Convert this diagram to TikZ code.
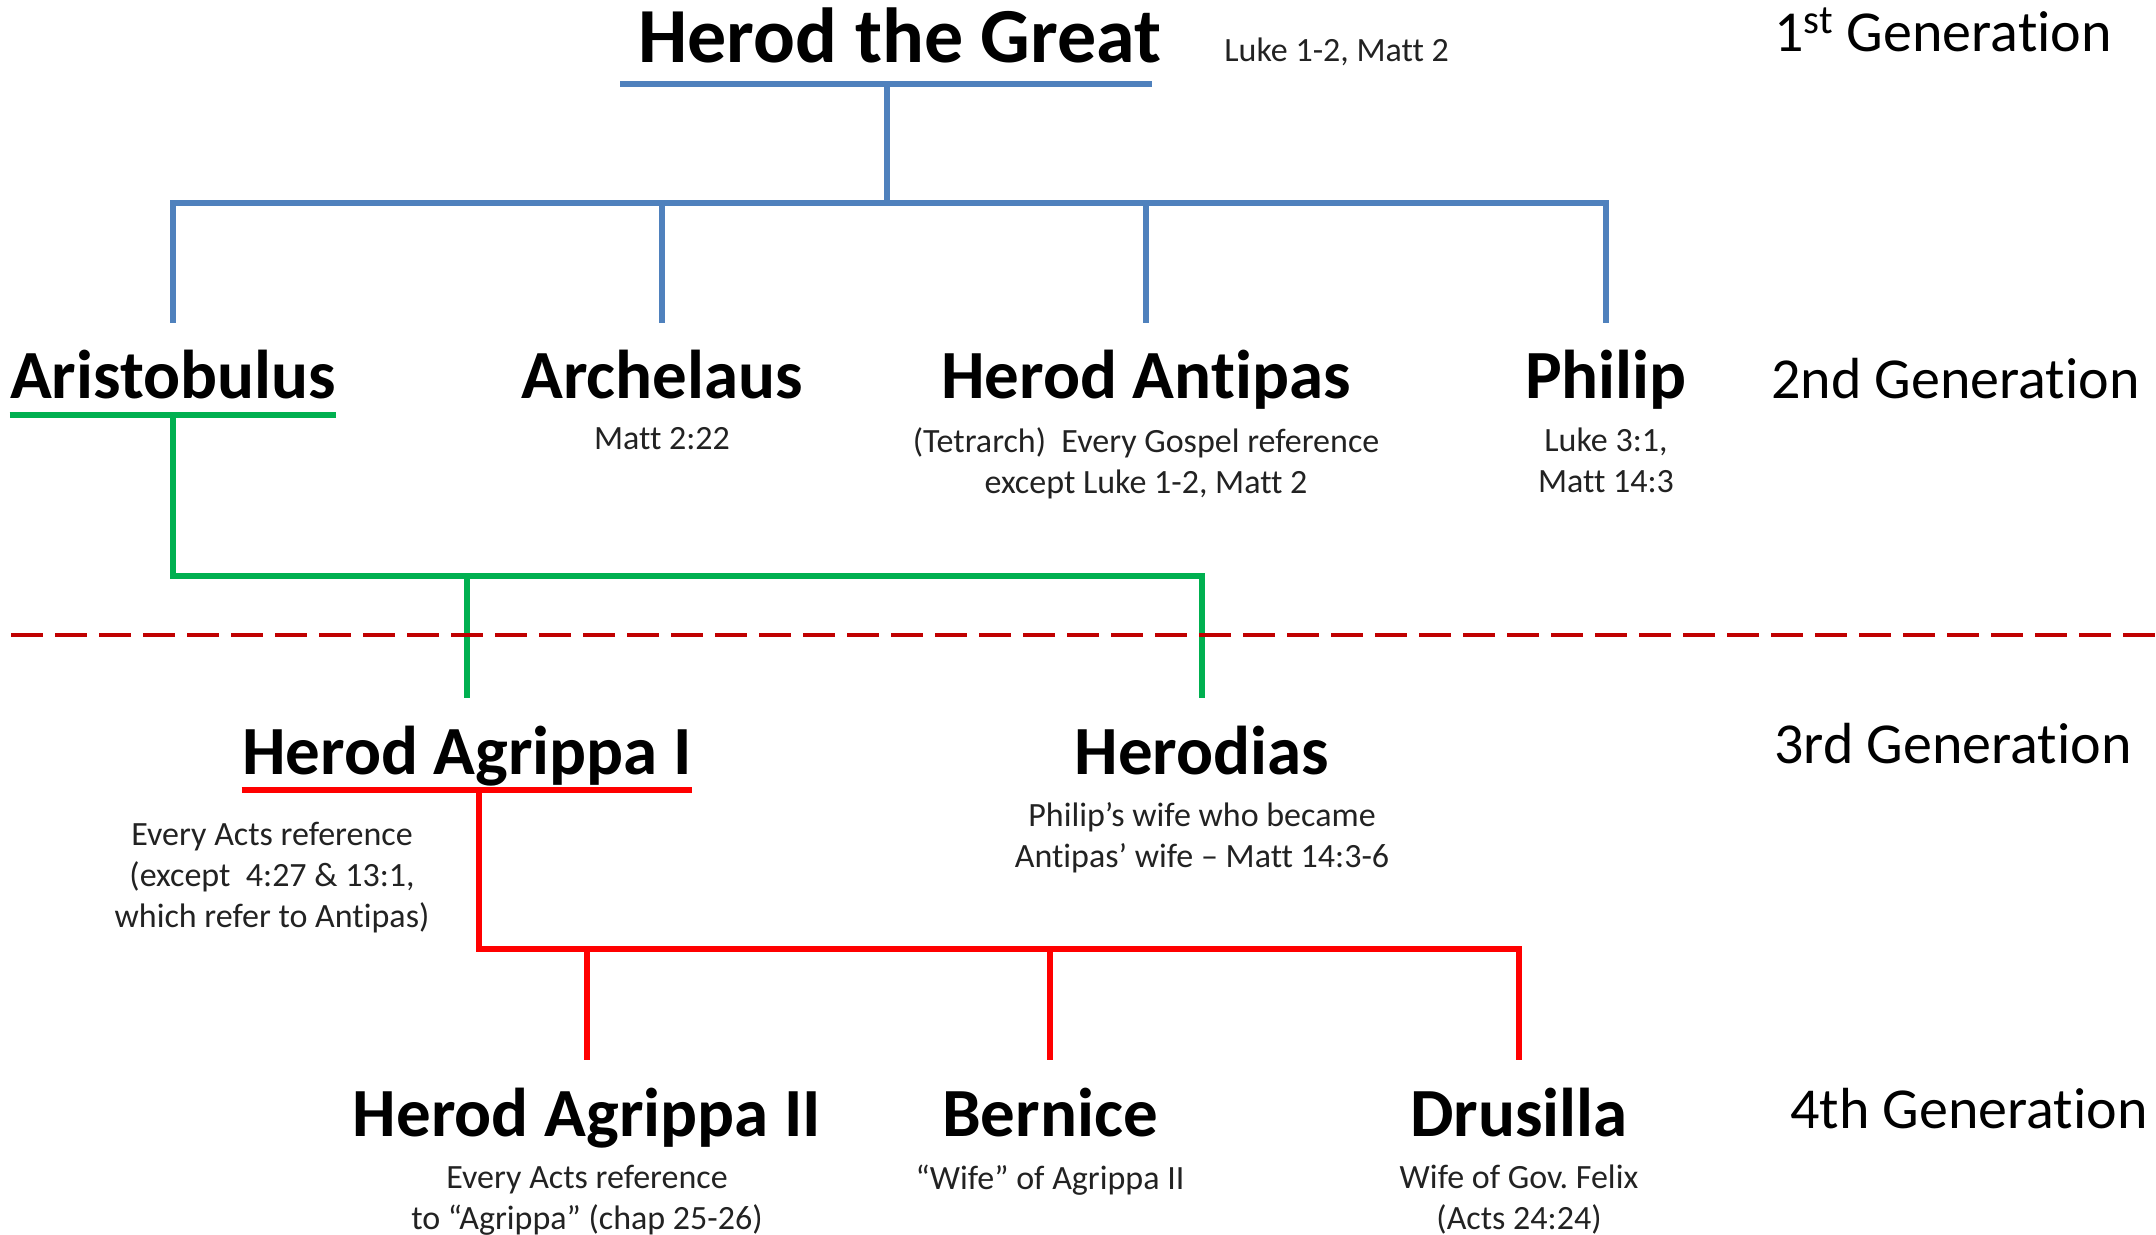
\documentclass[tikz,border=0pt]{standalone}
\usepackage{fontspec}
\setmainfont{Carlito}[Ligatures=NoCommon]
\usepackage{tikz}
\usetikzlibrary{positioning}
\definecolor{herodblue}{HTML}{4F81BD}
\definecolor{herodgreen}{HTML}{00B050}
\definecolor{herodred}{HTML}{FF0000}
\definecolor{dividerred}{HTML}{C00000}
\definecolor{notegrey}{HTML}{222222}
\frenchspacing

\begin{document}
\begin{tikzpicture}[
  x=0.5pt, y=-0.5pt,
  node distance=6pt,
  topname/.style={font=\bfseries\fontsize{39}{45}\selectfont, inner sep=0pt,
                  text depth=10.5pt, anchor=base},
  pname/.style={font=\bfseries\fontsize{34.5}{40}\selectfont, inner sep=0pt,
                text height=38pt, text depth=8pt, anchor=base},
  note/.style={font=\fontsize{17}{20.5}\selectfont, align=center, inner sep=0pt,
               text=notegrey},
  genlabel/.style={font=\fontsize{29}{34}\selectfont, inner sep=0pt, anchor=base west},
  line/.style={line width=3pt},
  divider/.style={draw=dividerred, line width=2pt, dash pattern=on 16pt off 6pt}]
\useasboundingbox (0,0) rectangle (2156,1235);
% generation 1
\node[topname] (herod) at (900,63) {Herod the Great};
\node[note, anchor=base west] (herodref) at (1224,62) {Luke 1-2, Matt 2};
% generation 2
\node[pname] (aristo) at (173,399) {Aristobulus};
\node[pname] (archel) at (662,399) {Archelaus};
\node[pname] (antipas) at (1146,399) {Herod Antipas};
\node[pname] (philip) at (1606,399) {Philip};
\node[note, below=of archel] (archelref) {Matt 2:22};
\node[note, below=of antipas] (antipasref) {(Tetrarch)\ \ Every Gospel reference\\except Luke 1-2, Matt 2};
\node[note, below=of philip] (philipref) {Luke 3:1,\\Matt 14:3};
% generation 3
\node[pname] (agrippa) at (467,774) {Herod Agrippa I};
\node[pname] (herodias) at (1202,774) {Herodias};
\node[note, anchor=north] (agripparef) at (272,822) {Every Acts reference\\(except\ \ 4:27 \& 13:1,\\which refer to Antipas)};
\node[note, below=of herodias] (herodiasref) {Philip’s wife who became\\Antipas’ wife – Matt 14:3-6};
% generation 4
\node[pname] (agrippaii) at (587,1136) {Herod Agrippa II};
\node[pname] (bernice) at (1050,1136) {Bernice};
\node[pname] (drusilla) at (1519,1136) {Drusilla};
\node[note, below=of agrippaii] (agrippaiiref) {Every Acts reference\\to “Agrippa” (chap 25-26)};
\node[note, below=of bernice] (bernref) {“Wife” of Agrippa II};
\node[note, below=of drusilla] (drusref) {Wife of Gov. Felix\\(Acts 24:24)};
% generation labels
\node[genlabel] (gen1) at (1774,52) {1\textsuperscript{st} Generation};
\node[genlabel] (gen2) at (1771,399) {2nd Generation};
\node[genlabel] (gen3) at (1774,763) {3rd Generation};
\node[genlabel] (gen4) at (1790,1128) {4th Generation};
% family lines
\coordinate (bus2) at (0,203);
\coordinate (bus3) at (0,576);
\coordinate (bus4) at (0,949);
\draw[line, herodblue] ([xshift=-9pt]herod.south west) -- ([xshift=-5pt]herod.south east);
\draw[line, herodblue] ([xshift=-6.5pt]herod.south) -- ([xshift=-6.5pt]herod.south |- bus2);
\draw[line, herodblue] (aristo.north) |- (philip.north |- bus2) -- (philip.north);
\foreach \kid in {archel, antipas}
  \draw[line, herodblue] (\kid.north) -- (\kid.north |- bus2);
\draw[line, herodgreen] (aristo.south west) -- (aristo.south east);
\draw[line, herodgreen] (aristo.south) |- (herodias.north |- bus3) -- (herodias.north);
\draw[line, herodgreen] (agrippa.north) -- (agrippa.north |- bus3);
\draw[line, herodred] (agrippa.south west) -- (agrippa.south east);
\draw[line, herodred] ([xshift=6pt]agrippa.south) |- (drusilla.north |- bus4) -- (drusilla.north);
\foreach \kid in {agrippaii, bernice}
  \draw[line, herodred] (\kid.north) -- (\kid.north |- bus4);
% generation divider
\draw[divider] (11,635) -- (2156,635);
\end{tikzpicture}
\end{document}
